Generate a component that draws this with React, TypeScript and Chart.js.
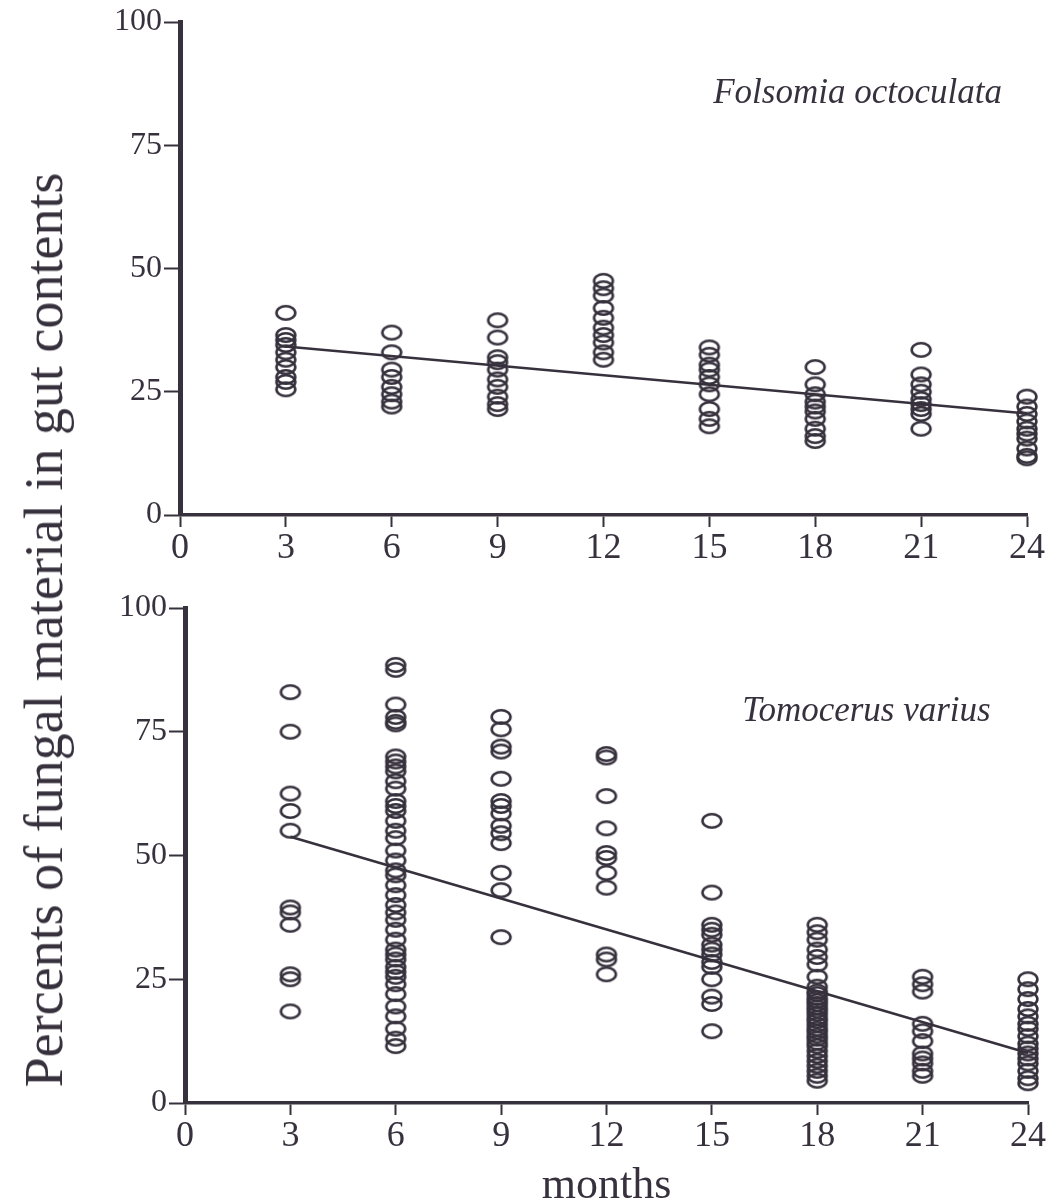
import React, { useEffect, useRef } from "react";
import { Chart, registerables } from "chart.js";

Chart.register(...registerables);

const INK = "#37313d";
const SERIF = "'Liberation Serif', 'Times New Roman', serif";

// months (x categories)
const MONTHS = [3, 6, 9, 12, 15, 18, 21, 24];
const X_TICKS = [0, 3, 6, 9, 12, 15, 18, 21, 24];
const Y_TICKS = [0, 25, 50, 75, 100];

// Folsomia octoculata: percent fungal material per individual, by month
const folsomiaM3 = [41, 36.5, 35.5, 34.5, 33, 31.5, 30, 28, 27, 25.5];
const folsomiaM6 = [37, 33, 29.5, 28, 26, 24.5, 23, 22];
const folsomiaM9 = [39.5, 36, 32, 31, 29.5, 27.5, 26, 24, 22.5, 21.5];
const folsomiaM12 = [47.5, 46, 44.5, 42, 40, 38, 36.5, 35, 33, 31.5];
const folsomiaM15 = [34, 32.5, 30.5, 29.5, 28, 26.5, 24.5, 21.5, 19.5, 18];
const folsomiaM18 = [30, 26.5, 24.5, 23, 22, 21, 19.5, 17.5, 16, 15];
const folsomiaM21 = [33.5, 28.5, 26.5, 25, 23.5, 22.5, 21.5, 20.5, 17.5];
const folsomiaM24 = [24, 22, 20.5, 19, 17.5, 16.5, 15.5, 13.5, 12, 11.5];
const folsomiaFitX = [3, 24];
const folsomiaFitY = [34.2, 20.6];

// Tomocerus varius
const tomocerusM3 = [83, 75, 62.5, 59, 55, 39.5, 38.5, 36, 26, 25, 18.5];
const tomocerusM6 = [
  88.5, 87.5, 80.5, 78, 77, 76.5, 70, 69, 68, 67, 65, 63.5, 61, 60, 59, 57,
  55, 53.5, 51, 49, 47, 46, 44, 42, 40, 38.5, 37, 35, 33, 31, 30, 29, 27.5,
  26.5, 25.5, 24, 22, 19.5, 17.5, 15, 13, 11.5,
];
const tomocerusM9 = [78, 75.5, 72, 71, 65.5, 61, 60, 58.5, 56, 54.5, 52.5, 46.5, 43, 33.5];
const tomocerusM12 = [70.5, 69.8, 62, 55.5, 50.5, 49.5, 46.5, 43.5, 30, 29, 26];
const tomocerusM15 = [57, 42.5, 36, 35, 34, 32, 31, 30, 28.5, 27.5, 25, 21.5, 20, 14.5];
const tomocerusM18 = [
  36, 34.5, 33, 31, 29.5, 28, 25.5, 23.5, 22.5, 22, 21.2, 20.6, 20, 19.3,
  18.7, 18, 17.2, 16.6, 15.8, 15, 14.4, 13.6, 13, 12.2, 11.5, 10.5, 9.5,
  8.5, 7.5, 6.5, 5.5, 4.5,
];
const tomocerusM21 = [25.5, 24, 22.5, 16, 14.5, 12.5, 10, 9, 8, 6.5, 5.5];
const tomocerusM24 = [25, 23, 21, 19, 17.5, 16, 15, 13.5, 12, 11, 10, 9, 8, 6.5, 5, 4];
const tomocerusFitX = [3, 24];
const tomocerusFitY = [53.8, 10.1];

const folsomiaValues = [folsomiaM3, folsomiaM6, folsomiaM9, folsomiaM12, folsomiaM15, folsomiaM18, folsomiaM21, folsomiaM24];
const tomocerusValues = [tomocerusM3, tomocerusM6, tomocerusM9, tomocerusM12, tomocerusM15, tomocerusM18, tomocerusM21, tomocerusM24];

function makeRing(): HTMLCanvasElement {
  const c = document.createElement("canvas");
  c.width = 24;
  c.height = 18;
  const ctx = c.getContext("2d")!;
  ctx.strokeStyle = INK;
  ctx.lineWidth = 2.6;
  ctx.beginPath();
  ctx.ellipse(12, 9, 9.4, 6.8, 0, 0, Math.PI * 2);
  ctx.stroke();
  return c;
}

type PanelProps = {
  values: number[][];
  fitX: number[];
  fitY: number[];
  species: string;
  speciesAt: [number, number];
  width: number;
  height: number;
  area: { left: number; top: number; right: number; bottom: number };
  xTitle?: string;
};

function Panel(props: PanelProps) {
  const ref = useRef<HTMLCanvasElement | null>(null);
  useEffect(() => {
    const canvas = ref.current!;
    const ring = makeRing();
    const points = MONTHS.flatMap((m, i) => props.values[i].map((v) => ({ x: m, y: v })));
    const fit = props.fitX.map((x, i) => ({ x, y: props.fitY[i] }));
    const { width, height, area } = props;
    const labelPlugin = {
      id: "speciesLabel",
      afterDraw(chart: any) {
        const c = chart.ctx;
        c.save();
        c.fillStyle = INK;
        c.font = `italic 35px ${SERIF}`;
        c.textAlign = "center";
        c.textBaseline = "middle";
        c.fillText(
          props.species,
          chart.scales.x.getPixelForValue(props.speciesAt[0]),
          chart.scales.y.getPixelForValue(props.speciesAt[1])
        );
        c.restore();
      },
    };
    const chart = new Chart(canvas, {
      type: "scatter",
      data: {
        datasets: [
          {
            data: fit,
            showLine: true,
            borderColor: INK,
            borderWidth: 2.5,
            pointRadius: 0,
            clip: false,
            order: 2,
          } as any,
          {
            data: points,
            pointStyle: ring as any,
            pointRadius: 9,
            showLine: false,
            clip: false,
            order: 1,
          } as any,
        ],
      },
      options: {
        animation: false,
        responsive: false,
        maintainAspectRatio: false,
        layout: { padding: { left: 0, top: area.top, right: width - area.right, bottom: 0 } },
        plugins: { legend: { display: false }, tooltip: { enabled: false } },
        scales: {
          x: {
            type: "linear",
            min: 0,
            max: 24,
            afterBuildTicks: (s: any) => {
              s.ticks = X_TICKS.map((v) => ({ value: v }));
            },
            ticks: { color: INK, font: { family: SERIF, size: 36 }, padding: 0, maxRotation: 0 },
            grid: { drawOnChartArea: false, drawTicks: true, tickLength: 12, tickColor: INK, tickWidth: 2 },
            border: { display: true, color: INK, width: 3.5 },
            title: props.xTitle
              ? { display: true, text: props.xTitle, color: INK, font: { family: SERIF, size: 44, lineHeight: 0.8 }, padding: { top: 0, bottom: 0 } }
              : { display: false },
            afterFit: (s: any) => {
              s.height = height - area.bottom;
            },
          },
          y: {
            type: "linear",
            min: 0,
            max: 100,
            afterBuildTicks: (s: any) => {
              s.ticks = Y_TICKS.map((v) => ({ value: v }));
            },
            ticks: { color: INK, font: { family: SERIF, size: 32 }, padding: 2 },
            grid: { drawOnChartArea: false, drawTicks: true, tickLength: 16, tickColor: INK, tickWidth: 2 },
            border: { display: true, color: INK, width: 5 },
            afterFit: (s: any) => {
              s.width = area.left;
            },
          },
        },
      },
      plugins: [labelPlugin],
    });
    return () => chart.destroy();
  }, []);
  return <canvas ref={ref} width={props.width} height={props.height} style={{ display: "block" }} />;
}

export default function App() {
  return (
    <div style={{ position: "absolute", left: 0, top: 0, width: 1054, height: 1204, background: "#fff" }}>
      <div style={{ position: "absolute", left: 0, top: 0 }}>
        <Panel
          values={folsomiaValues}
          fitX={folsomiaFitX}
          fitY={folsomiaFitY}
          species="Folsomia octoculata"
          speciesAt={[19.2, 85.5]}
          width={1054}
          height={580}
          area={{ left: 180, top: 22, right: 1027, bottom: 515 }}
        />
      </div>
      <div style={{ position: "absolute", left: 0, top: 580 }}>
        <Panel
          values={tomocerusValues}
          fitX={tomocerusFitX}
          fitY={tomocerusFitY}
          species="Tomocerus varius"
          speciesAt={[19.4, 79]}
          width={1054}
          height={624}
          area={{ left: 185, top: 28, right: 1028, bottom: 523 }}
          xTitle="months"
        />
      </div>
      <div
        style={{
          position: "absolute",
          left: 44,
          top: 630,
          transform: "translate(-50%, -50%) rotate(-90deg)",
          whiteSpace: "nowrap",
          fontFamily: SERIF,
          fontSize: 54,
          lineHeight: 1,
          color: INK,
        }}
      >
        Percents of fungal material in gut contents
      </div>
    </div>
  );
}
